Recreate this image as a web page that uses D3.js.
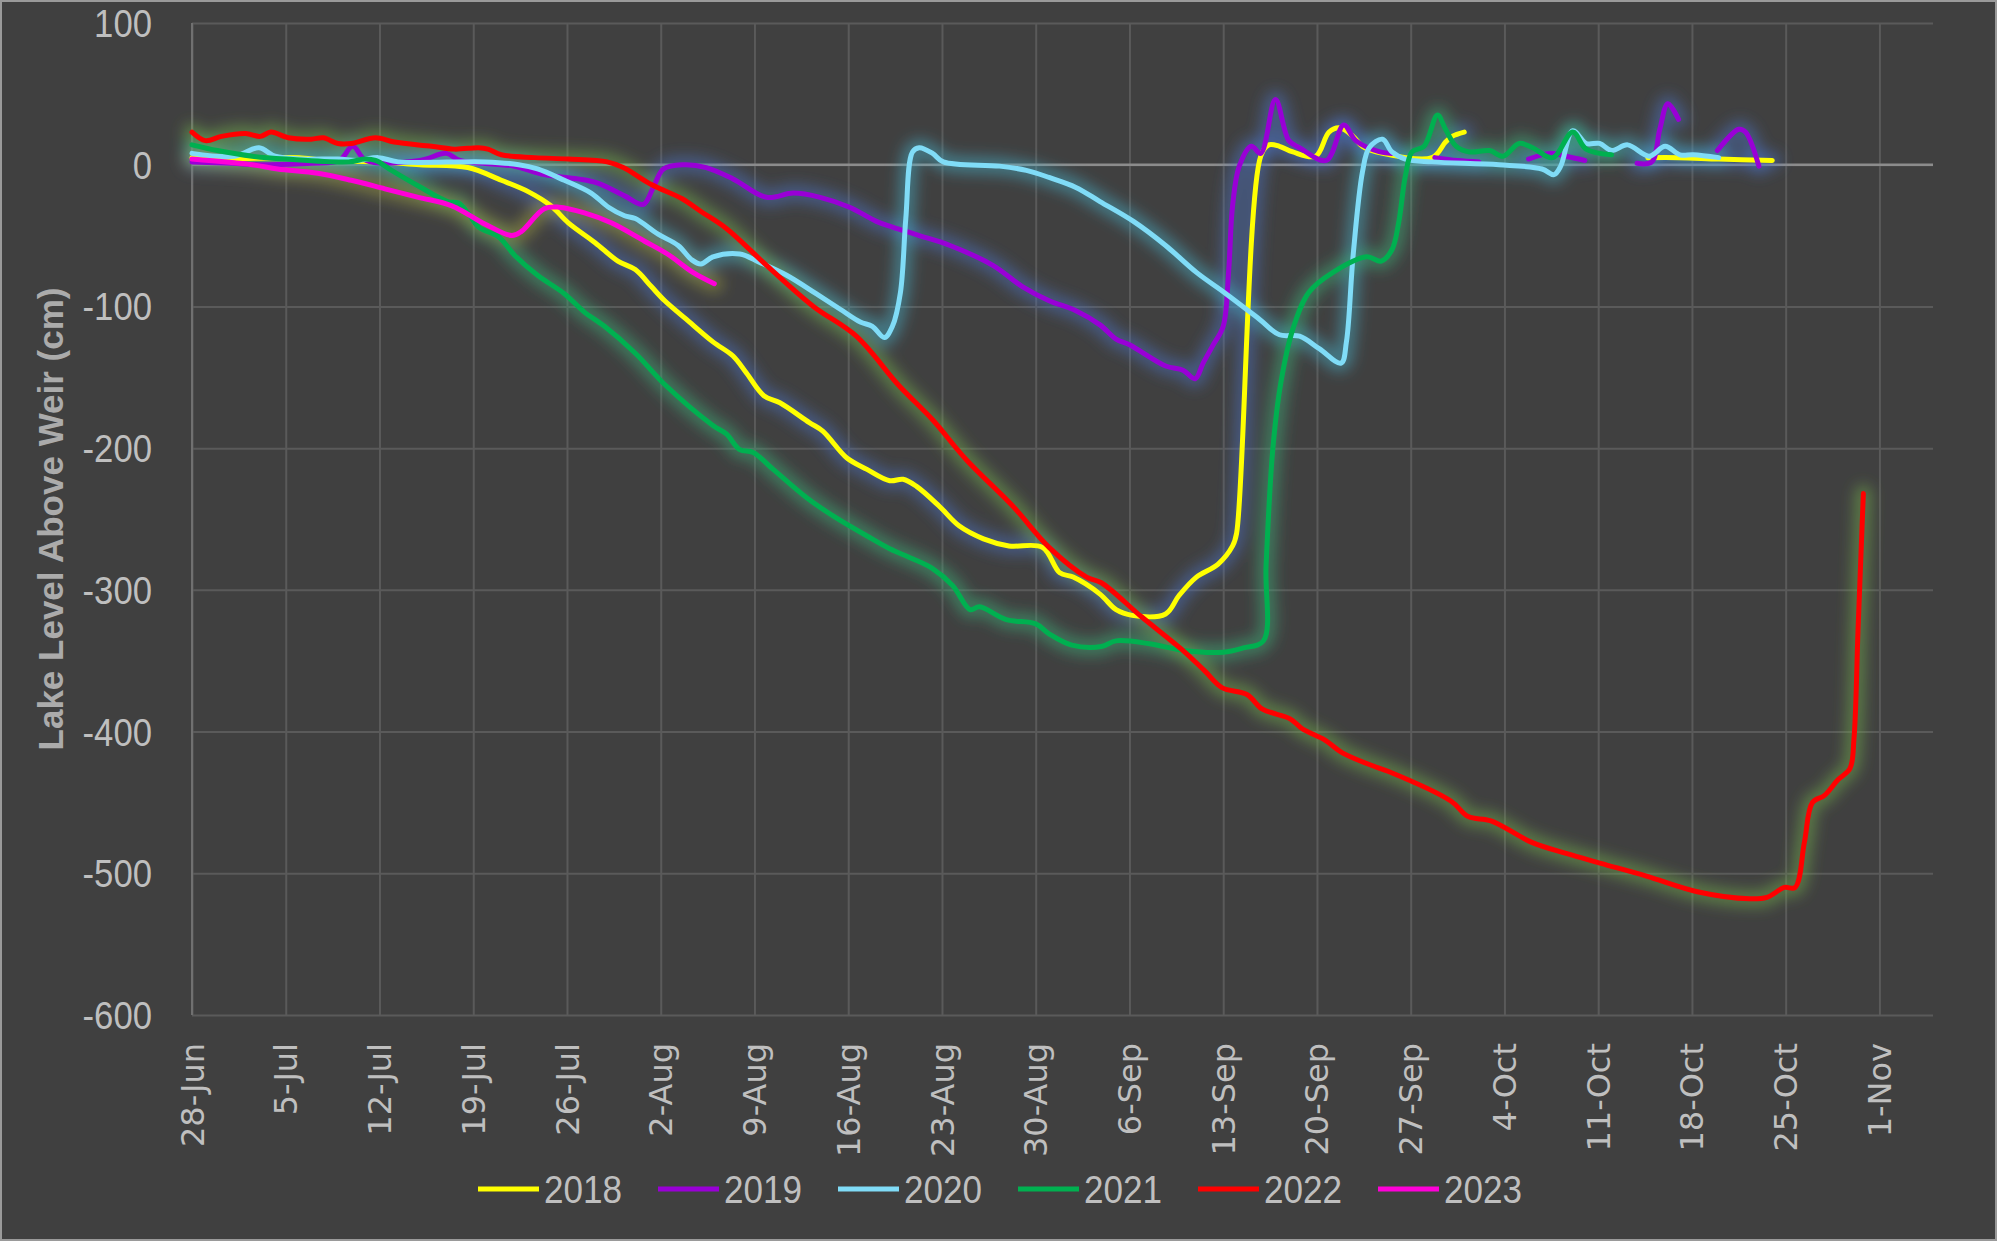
<!DOCTYPE html>
<html>
<head>
<meta charset="utf-8">
<script src="https://cdn.jsdelivr.net/npm/d3@7/dist/d3.min.js"></script>
<style>
    html, body { margin: 0; padding: 0; background: #404040; }
    svg { display: block; }
</style>
</head>
<body>
<svg id="chart" width="1997" height="1241"></svg>
<script>
// category axis: days after 28-Jun, one label per week
var tickDays = [0, 7, 14, 21, 28, 35, 42, 49, 56, 63, 70, 77, 84, 91, 98, 105, 112, 119, 126]
var tickLabels = ["28-Jun", "5-Jul", "12-Jul", "19-Jul", "26-Jul", "2-Aug", "9-Aug", "16-Aug", "23-Aug",
    "30-Aug", "6-Sep", "13-Sep", "20-Sep", "27-Sep", "4-Oct", "11-Oct", "18-Oct", "25-Oct", "1-Nov"]
var yTicks = [100, 0, -100, -200, -300, -400, -500, -600]

var years = ["2018", "2019", "2020", "2021", "2022", "2023"]
var lineColors = ["#ffff00", "#9900d6", "#80dcf7", "#00b050", "#ff0000", "#ff00d8"]
var glowColors = ["#4a6fc0", "#4a6fc0", "#46aec8", "#3cae78", "#74ae4a", "#a0a040"]

// [day after 28-Jun, lake level cm], null = no reading
var lvl2018 = [[0,5],[3,4],[6,5],[8,5],[10,3],[14,2],[17,0],[20.6,-2],[23.1,-11],[25.1,-19],[26.8,-29],
    [28.1,-41],[30.1,-55],[31.8,-68],[33.1,-74],[34.3,-86],[35.3,-96],[36.9,-109],[38.9,-125],[40.4,-135],
    [41.4,-147],[42.7,-163],[43.9,-168],[46.1,-182],[47.1,-188],[48.9,-207],[50.4,-215],[52.1,-223],
    [53.1,-222],[54.1,-227],[55.8,-241],[57.3,-255],[59.1,-264],[61,-269],[63.5,-270],[64.8,-288],
    [65.8,-291],[67.8,-303],[69,-314],[70.2,-318],[72.7,-317],[73.7,-304],[75,-291],[76.6,-282],
    [77.7,-269],[78,-260],[79.8,6],[80.4,14],[81.2,13],[82.2,9],[83.9,6],[84.9,23],[85.7,26],[86.7,20],
    [87.4,13],[88.9,8],[92.6,5],[93.6,16],[94.1,20],[95,23],[100,null],[108.7,5],[111,5],[114,4],[118,3]]

var lvl2019 = [[0,2],[3,1],[5,0],[9,1],[11,3],[12,13],[13,3],[17,3],[19,8],[20,3],[24,-1],[26.3,-7],
    [28.8,-10],[30.3,-13],[32.3,-22],[33.7,-28],[34.4,-17],[35.2,-3],[36.7,0],[38.4,-2],[40.4,-10],
    [42.9,-23],[44.9,-20],[46.9,-23],[49.1,-30],[51.1,-40],[52.3,-44],[54.3,-50],[56.6,-57],[59.8,-71],
    [62,-86],[64,-96],[66,-103],[67.8,-113],[69,-123],[70,-127],[72.7,-142],[74,-145],[74.9,-151],
    [75.5,-140],[76.2,-128],[77,-114],[77.4,-76],[77.7,-29],[78.2,-1],[79.1,13],[79.8,8],[80.9,46],
    [81.9,17],[82.7,12],[84.7,3],[86,28],[86.9,17],[88.7,9],[89.6,8],[91,null],
    [92.8,5],[94.5,3],[96.1,2],[98,null],[99.8,4],[101.4,8],[102.6,6],[104,3],[106,null],
    [107.9,1],[109,2],[109.6,25],[110.2,43],[111,32],[112.5,null],[113.9,10],[115.5,25],[116,23],[117,-1]]

var lvl2020 = [[0,8],[3.2,6],[5,12],[6.2,6],[8.2,4],[10.9,4],[12.4,3],[13.9,5],[15.4,2],[21.9,2],[24.4,0],
    [25.8,-3],[27.8,-11],[29.8,-20],[31.1,-30],[32.3,-36],[33.1,-38],[34.8,-49],[36.3,-57],[37.3,-67],
    [38,-70],[38.9,-65],[40.9,-63],[42.4,-69],[44.4,-78],[46.6,-91],[48.4,-102],[49.9,-111],[50.8,-114],
    [51.7,-122],[52.3,-114],[52.9,-90],[53.3,-38],[53.8,9],[54.3,12],[55.3,8],[56.1,2],[60.3,-1],
    [62.3,-4],[64,-9],[66,-16],[67.8,-26],[70.3,-40],[72.7,-57],[75,-76],[77.2,-91],[79.7,-109],
    [81.2,-120],[82.7,-121],[84.2,-130],[85.8,-140],[86.2,-125],[86.7,-64],[87.4,-5],[87.9,12],
    [88.9,18],[89.6,9],[90.6,4],[92.6,2],[97.6,0],[100.8,-3],[101.7,-7],[102.2,-1],[103.1,24],
    [104.1,15],[105.1,15],[106,10],[107.2,14],[108.8,6],[110,13],[111.1,7],[112.1,7],[114,5]]

var lvl2021 = [[0,14],[1.9,10],[4.5,6],[7,4],[11.7,2],[12.9,4],[13.7,3],[14.9,-4],[16.9,-15],[19.1,-26],
    [19.9,-27],[20.6,-34],[21.4,-44],[22.9,-51],[24.1,-64],[25.8,-78],[27.8,-91],[29.3,-104],[30.8,-114],
    [33.1,-133],[35.4,-156],[38.9,-184],[39.9,-190],[40.9,-201],[41.9,-203],[43.4,-215],[45.9,-235],
    [47.9,-248],[50.4,-262],[52.1,-271],[53.8,-278],[55.3,-285],[56.8,-297],[58.1,-314],[58.8,-312],
    [60.8,-321],[63,-324],[64,-331],[65.7,-339],[67.9,-340],[69,-336],[71.5,-338],[74.2,-343],[77,-344],
    [78.5,-341],[80,-336],[80.2,-283],[80.7,-201],[81.3,-154],[82.2,-116],[83.4,-90],[85.2,-76],
    [87.7,-65],[88.8,-68],[89.6,-60],[90.1,-41],[90.6,-8],[91.1,9],[92,13],[93,35],[93.6,25],[94.4,13],
    [95.4,9],[96.9,10],[97.9,6],[99.1,15],[100.1,12],[101.6,5],[103.1,23],[104.1,11],[106,7]]

var lvl2022 = [[0,23],[1,17],[2.2,20],[4,22],[5.1,20],[5.9,23],[7.2,19],[8.9,18],[9.8,19],[10.9,15],
    [11.9,15],[13.7,19],[15.1,16],[17.9,13],[19.6,11],[21.4,12],[22.1,11],[23.1,7],[25.6,5],[28.1,4],
    [31,2],[32.2,-2],[34.3,-14],[36.6,-24],[38,-33],[39.9,-45],[42.9,-71],[46.4,-100],[49.6,-121],
    [52.8,-156],[55.3,-180],[57.8,-208],[61.3,-241],[64,-270],[66.8,-291],[67.9,-295],[70.9,-319],
    [73.9,-342],[75.6,-357],[76.9,-369],[78.8,-374],[79.9,-384],[82,-391],[82.9,-398],[84.6,-406],
    [85.9,-415],[88.4,-425],[89.3,-428],[94,-449],[95.3,-460],[97,-463],[100,-478],[102.6,-486],
    [105.2,-493],[108.6,-502],[112.4,-513],[116.3,-518],[117.6,-517],[118.9,-510],[119.7,-510],
    [120.4,-478],[121,-450],[121.9,-445],[122.9,-434],[123.8,-426],[124.1,-405],[124.4,-329],[124.8,-232]]

var lvl2023 = [[0,4],[4.5,0],[6.4,-3],[9.4,-6],[11.9,-11],[14.4,-17],[16.9,-23],[19.4,-29],[21.9,-42],
    [23.9,-50],[24.6,-47],[26.3,-31],[27.4,-30],[29.3,-34],[31.3,-41],[33.8,-54],[35.5,-63],[37.4,-76],[39,-84]]

var seriesData = [lvl2018, lvl2019, lvl2020, lvl2021, lvl2022, lvl2023]

var width = 1997,
    height = 1241,
    plotLeft = 192,
    plotRight = 1933,
    plotTop = 23,
    plotBottom = 1015

var svg = d3.select("#chart")

// chart background + thin light border
svg.append("rect")
    .attr("x", 1).attr("y", 1)
    .attr("width", width - 2).attr("height", height - 2)
    .attr("fill", "#404040")
    .attr("stroke", "#9a9a9a")
    .attr("stroke-width", 2)

var x = d3.scaleLinear()
    .domain([0, 130])
    .range([plotLeft, plotRight])
var y = d3.scaleLinear()
    .domain([-600, 100])
    .range([plotBottom, plotTop])

// glow filter
var defs = svg.append("defs")
defs.append("filter")
    .attr("id", "glow")
    .attr("x", "-20%").attr("y", "-20%")
    .attr("width", "140%").attr("height", "140%")
    .append("feGaussianBlur")
    .attr("stdDeviation", 7)

var plot = svg.append("g")

// horizontal gridlines
plot.append("g")
    .attr("transform", "translate(" + plotLeft + ",0)")
    .call(d3.axisLeft(y).tickValues(yTicks).tickSize(-(plotRight - plotLeft)).tickFormat(""))
    .call(g => g.select(".domain").remove())
    .selectAll("line")
    .attr("stroke", "#5a5a5a")
    .attr("stroke-width", 2)

// vertical gridlines
plot.append("g")
    .attr("transform", "translate(0," + plotBottom + ")")
    .call(d3.axisBottom(x).tickValues(tickDays).tickSize(-(plotBottom - plotTop)).tickFormat(""))
    .call(g => g.select(".domain").remove())
    .selectAll("line")
    .attr("stroke", "#5a5a5a")
    .attr("stroke-width", 2)

// left axis line
plot.append("line")
    .attr("x1", plotLeft).attr("x2", plotLeft)
    .attr("y1", plotTop).attr("y2", plotBottom)
    .attr("stroke", "#707070")
    .attr("stroke-width", 2)

// zero line (category axis crosses here)
plot.append("line")
    .attr("x1", plotLeft).attr("x2", plotRight)
    .attr("y1", y(0)).attr("y2", y(0))
    .attr("stroke", "#8c8c8c")
    .attr("stroke-width", 2.5)

// y tick labels (squeezed a bit, like the narrow original font)
svg.append("g").selectAll("text")
    .data(yTicks)
    .enter().append("text")
    .attr("transform", d => "translate(152," + y(d) + ") scale(0.89,1)")
    .attr("dy", "0.36em")
    .attr("text-anchor", "end")
    .attr("fill", "#bfbfbf")
    .style("font-family", "'Liberation Sans', sans-serif")
    .style("font-size", "39px")
    .text(d => d)

// x tick labels, rotated
svg.append("g").selectAll("text")
    .data(tickDays)
    .enter().append("text")
    .attr("transform", d => "translate(" + x(d) + ",1043) rotate(-90)")
    .attr("dy", "0.36em")
    .attr("text-anchor", "end")
    .attr("fill", "#bfbfbf")
    .style("font-family", "'DejaVu Sans', sans-serif")
    .style("font-size", "32px")
    .text((d, i) => tickLabels[i])

// y title
svg.append("text")
    .attr("transform", "translate(50,519) rotate(-90)")
    .attr("dy", "0.36em")
    .attr("text-anchor", "middle")
    .attr("fill", "#ababab")
    .style("font-family", "'Liberation Sans', sans-serif")
    .style("font-weight", "bold")
    .style("font-size", "35px")
    .text("Lake Level Above Weir (cm)")

var line = d3.line()
    .defined(d => d[1] != null)
    .x(d => x(d[0]))
    .y(d => y(d[1]))
    .curve(d3.curveCatmullRom.alpha(0.5))

// glows first, then the lines on top
var glowG = plot.append("g").attr("filter", "url(#glow)")
seriesData.forEach(function(s, i) {
    glowG.append("path")
        .attr("d", line(s))
        .attr("fill", "none")
        .attr("stroke", glowColors[i])
        .attr("stroke-width", 18)
        .attr("stroke-linecap", "round")
        .attr("stroke-linejoin", "round")
        .attr("opacity", 0.5)
})

seriesData.forEach(function(s, i) {
    plot.append("path")
        .attr("class", "series y" + years[i])
        .attr("d", line(s))
        .attr("fill", "none")
        .attr("stroke", lineColors[i])
        .attr("stroke-width", 5)
        .attr("stroke-linecap", "round")
        .attr("stroke-linejoin", "round")
})

// legend
var legend = svg.append("g").attr("class", "legend")
years.forEach(function(yr, i) {
    var lx = 478 + i * 180
    legend.append("line")
        .attr("x1", lx).attr("x2", lx + 61)
        .attr("y1", 1189).attr("y2", 1189)
        .attr("stroke", lineColors[i])
        .attr("stroke-width", 5)
    legend.append("text")
        .attr("transform", "translate(" + (lx + 66) + ",1189) scale(0.9,1)")
        .attr("dy", "0.36em")
        .attr("fill", "#bfbfbf")
        .style("font-family", "'Liberation Sans', sans-serif")
        .style("font-size", "39px")
        .text(yr)
})
</script>
</body>
</html>
